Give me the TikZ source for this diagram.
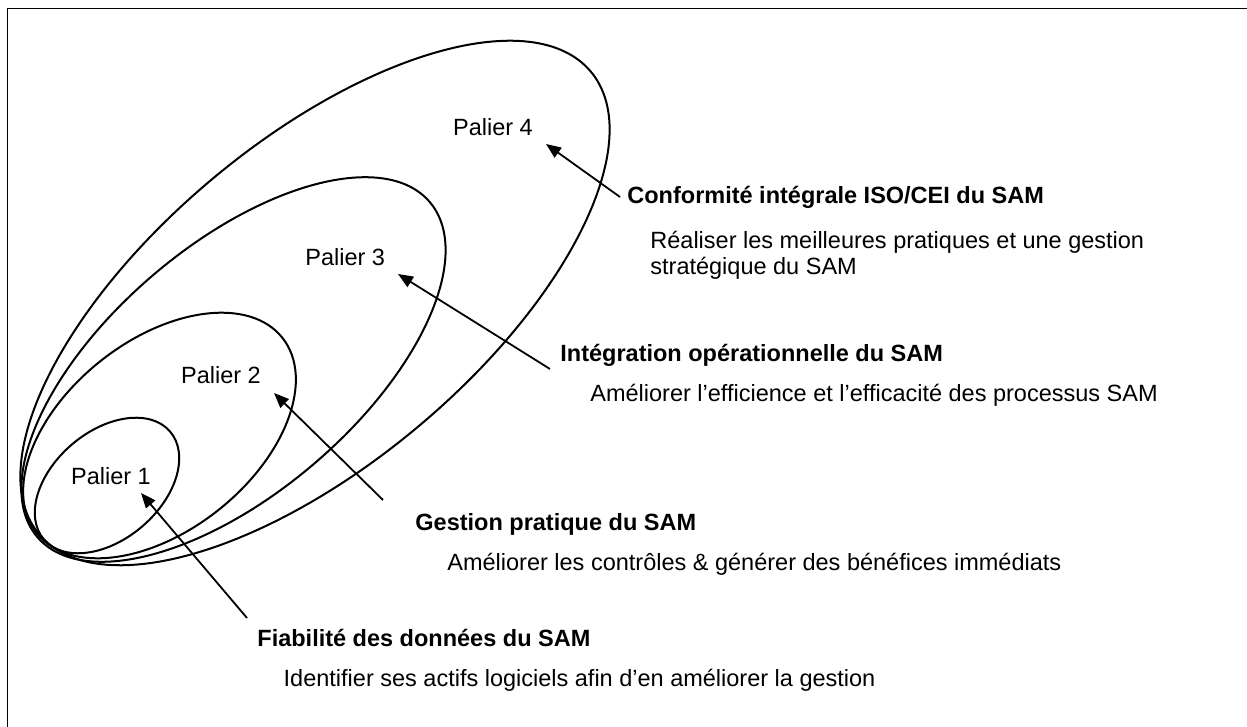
\documentclass[tikz,border=0pt]{standalone}
\usepackage{fontspec}
\setmainfont{Liberation Sans}
\usetikzlibrary{arrows.meta}
\begin{document}
\begin{tikzpicture}[x=0.5pt,y=0.5pt,
  ring/.style={line width=1pt},
  lbl/.style={inner sep=0pt,anchor=base west,font=\fontsize{11.75}{13}\selectfont},
  ttl/.style={lbl,font=\fontsize{11.75}{13}\selectfont\bfseries},
  pointer/.style={line width=0.9pt,-{Triangle[length=7.5pt,width=6pt]}},
  frame/.style={line width=0.8pt}]
\useasboundingbox (0,0) rectangle (1247,727);
% frame (only left and top visible)
\coordinate (fbl) at (7.5,-2);
\coordinate (ftl) at (7.5,718.5);
\coordinate (ftr) at (1250,718.5);
\draw[frame] (fbl) -- (ftl) -- (ftr);
% ellipses
\coordinate (c1) at (107,241.5);
\coordinate (c2) at (159.5,291.5);
\coordinate (c3) at (233.5,357.5);
\coordinate (c4) at (315,424);
\draw[ring,rotate around={40.5:(c1)}] (c1) ellipse [x radius=83, y radius=54];
\draw[ring,rotate around={38.5:(c2)}] (c2) ellipse [x radius=157, y radius=95];
\draw[ring,rotate around={40.5:(c3)}] (c3) ellipse [x radius=258, y radius=124];
\draw[ring,rotate around={40:(c4)}] (c4) ellipse [x radius=360, y radius=161];
% level labels
\node[lbl] (p1) at (70.7,242.7) {Palier 1};
\node[lbl] (p2) at (180.7,343.7) {Palier 2};
\node[lbl] (p3) at (305,461) {Palier 3};
\node[lbl] (p4) at (452.7,591.3) {Palier 4};
% titles and descriptions
\node[ttl] (t4) at (627,523) {Conformité intégrale ISO/CEI du SAM};
\node[lbl] (d4a) at (650,478.7) {Réaliser les meilleures pratiques et une gestion};
\node[lbl] (d4b) at (650,452.7) {stratégique du SAM};
\node[ttl] (t3) at (560,365.3) {Intégration opérationnelle du SAM};
\node[lbl] (d3) at (590,325.3) {Améliorer l’efficience et l’efficacité des processus SAM};
\node[ttl] (t2) at (415,196.3) {Gestion pratique du SAM};
\node[lbl] (d2) at (447,156.3) {Améliorer les contrôles \& générer des bénéfices immédiats};
\node[ttl] (t1) at (257,80.3) {Fiabilité des données du SAM};
\node[lbl] (d1) at (283.3,40.3) {Identifier ses actifs logiciels afin d’en améliorer la gestion};
% arrows
\coordinate (a1s) at (247,109);  \coordinate (a1e) at (141,234);
\coordinate (a2s) at (383,227);  \coordinate (a2e) at (274,334);
\coordinate (a3s) at (550,358);  \coordinate (a3e) at (398,453);
\coordinate (a4s) at (620,530);  \coordinate (a4e) at (546,583);
\draw[pointer] (a1s) -- (a1e);
\draw[pointer] (a2s) -- (a2e);
\draw[pointer] (a3s) -- (a3e);
\draw[pointer] (a4s) -- (a4e);
\end{tikzpicture}
\end{document}
